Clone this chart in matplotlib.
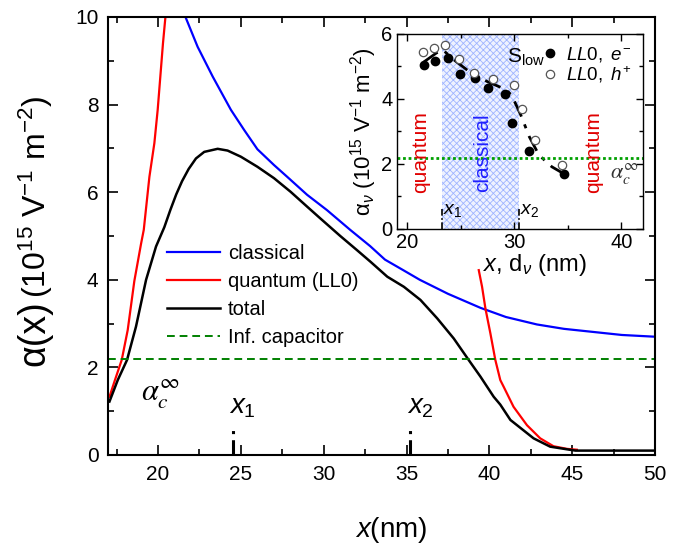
import matplotlib
matplotlib.use('Agg')
import matplotlib.pyplot as plt
from matplotlib.ticker import MultipleLocator

plt.rcParams['font.family'] = ['Liberation Sans', 'DejaVu Sans']
plt.rcParams['mathtext.fontset'] = 'custom'
plt.rcParams['mathtext.rm'] = 'Liberation Sans'
plt.rcParams['mathtext.it'] = 'Liberation Sans:italic'
plt.rcParams['mathtext.bf'] = 'Liberation Sans:bold'
plt.rcParams['hatch.linewidth'] = 0.6

# main panel: alpha(x) curves
x_classical = [21.69, 22.39, 23.3, 24.4, 25.2, 26.0, 27.0, 27.8, 29.0, 30.2, 31.6, 32.8,
               33.7, 34.8, 35.8, 37.5, 39.46, 41.0, 42.87, 44.5, 46.5, 48.0, 50.0]
y_classical = [9.97, 9.32, 8.64, 7.88, 7.42, 6.98, 6.62, 6.35, 5.94, 5.59, 5.14, 4.77,
               4.46, 4.22, 4.0, 3.68, 3.36, 3.15, 2.98, 2.88, 2.80, 2.74, 2.70]

x_quantum_left = [17.07, 17.4, 17.81, 18.17, 18.57, 18.98, 19.14, 19.48, 19.78, 19.98,
                  20.14, 20.3, 20.44]
y_quantum_left = [1.33, 1.71, 2.17, 2.85, 3.97, 4.83, 5.14, 6.35, 7.12, 7.88,
                  8.64, 9.4, 9.97]

x_quantum_right = [39.36, 39.56, 39.76, 40.06, 40.36, 40.66, 40.86, 41.46, 42.27, 43.07,
                   43.87, 44.68, 45.28]
y_quantum_right = [4.22, 3.84, 3.35, 2.78, 2.17, 1.71, 1.56, 1.10, 0.68, 0.38,
                   0.20, 0.14, 0.12]

x_total = [17.07, 17.57, 18.13, 18.67, 19.28, 19.88, 20.38, 20.75, 21.1, 21.45, 21.85,
           22.29, 22.79, 23.6, 24.2, 25.0, 26.0, 27.0, 28.0, 29.0, 29.8, 31.0, 32.0,
           32.83, 33.84, 34.84, 35.84, 36.85, 37.85, 38.75, 39.46, 40.26, 40.66, 41.27,
           41.67, 42.27, 42.67, 43.67, 44.68, 45.2, 47.0, 50.0]
y_total = [1.22, 1.71, 2.17, 2.93, 4.0, 4.76, 5.2, 5.6, 5.95, 6.25, 6.53,
           6.77, 6.92, 6.99, 6.95, 6.81, 6.58, 6.32, 6.01, 5.67, 5.40, 5.0, 4.68,
           4.41, 4.07, 3.84, 3.54, 3.12, 2.66, 2.17, 1.79, 1.33, 1.15, 0.80,
           0.68, 0.50, 0.38, 0.19, 0.13, 0.10, 0.10, 0.10]

alpha_inf = 2.18
x1_main, x2_main = 24.5, 35.2

# inset: measured alpha_nu
x_e = [21.55, 22.54, 23.84, 24.87, 26.29, 27.57, 29.09, 29.74, 31.41, 34.67]
y_e = [5.03, 5.15, 5.25, 4.76, 4.65, 4.33, 4.13, 3.24, 2.40, 1.68]
x_h = [21.46, 22.48, 23.47, 24.78, 26.23, 28.03, 29.92, 30.76, 31.91, 34.42]
y_h = [5.42, 5.56, 5.66, 5.23, 4.80, 4.61, 4.42, 3.67, 2.73, 1.96]
x_guide = [21.55, 22.7, 23.3, 24.4, 26.1, 27.5, 29.2, 29.74, 30.6, 31.4, 32.3, 33.5, 34.6]
y_guide = [5.13, 5.40, 5.50, 5.18, 4.75, 4.52, 4.28, 4.11, 3.50, 2.83, 2.27, 1.91, 1.70]
x1_in, x2_in = 23.2, 30.4

fig = plt.figure(figsize=(6.89, 5.46), dpi=100)
ax = fig.add_axes([0.1572, 0.1667, 0.7935, 0.8022])

ax.plot(x_classical, y_classical, color='#0000ff', lw=1.6, label='classical')
ax.plot(x_quantum_left, y_quantum_left, color='#ff0000', lw=1.6, label='quantum (LL0)')
ax.plot(x_quantum_right, y_quantum_right, color='#ff0000', lw=1.6)
ax.plot(x_total, y_total, color='black', lw=1.8, label='total')
ax.axhline(alpha_inf, color='#008000', lw=1.4, ls=(0, (4, 2.5)), label='Inf. capacitor')

for xm in (x1_main, x2_main):
    ax.plot([xm, xm], [0, 0.65], color='black', lw=2.2, ls=(0, (5, 2, 1, 2)))
ax.text(x1_main - 0.2, 0.8, '$x_1$', fontsize=20, ha='left', va='bottom')
ax.text(x2_main - 0.2, 0.8, '$x_2$', fontsize=20, ha='left', va='bottom')
ax.text(19.0, 1.25, r'$\alpha_c^\infty$', fontsize=22, math_fontfamily='stix')

ax.set_xlim(17, 50)
ax.set_ylim(0, 10)
ax.xaxis.set_major_locator(MultipleLocator(5))
ax.xaxis.set_minor_locator(MultipleLocator(2.5))
ax.yaxis.set_major_locator(MultipleLocator(2))
ax.yaxis.set_minor_locator(MultipleLocator(1))
ax.tick_params(which='both', direction='in', top=True, right=True, width=1.2)
ax.tick_params(which='major', length=7, labelsize=15, pad=7)
ax.tick_params(which='minor', length=4)
for s in ax.spines.values():
    s.set_linewidth(1.5)

ax.legend(loc='upper left', bbox_to_anchor=(0.075, 0.523), frameon=False, fontsize=14.5,
          handlelength=2.6, labelspacing=0.45, handletextpad=0.4)

# y label in two sizes, second part placed right after the first
t1 = fig.text(0.05, 0.33, 'α(x)', rotation=90, fontsize=27, ha='center', va='bottom')
fig.canvas.draw()
top = t1.get_window_extent().y1 / fig.bbox.height
fig.text(0.052, top + 0.003, '(10$^{15}$ V$^{-1}$ m$^{-2}$)', rotation=90, fontsize=23,
         ha='center', va='bottom')
fig.text(0.568, 0.03, '$x$(nm)', fontsize=20, ha='center', va='center')

# inset
ins = fig.add_axes([0.5758, 0.5806, 0.357, 0.358])
ins.axvspan(x1_in, x2_in, facecolor='#eef2ff', edgecolor='#9fb4ff', hatch='xxxxx', lw=0)
ins.plot(x_guide, y_guide, color='black', lw=2.0, ls=(0, (6, 3, 1.5, 3)))
ins.plot(x_e, y_e, 'o', color='black', ms=6, label='$\\mathit{LL0,\\ e^{-}}$')
ins.plot(x_h, y_h, 'o', mfc='white', mec='#555555', mew=0.9, ms=6,
         label='$\\mathit{LL0,\\ h^{+}}$')
ins.axhline(2.19, color='#00a000', lw=2.0, ls=(0, (1, 1)))
for xm in (x1_in, x2_in):
    ins.plot([xm, xm], [0, 0.6], color='black', lw=1.2, ls=(0, (4, 1.5, 1, 1.5)))
ins.text(x1_in + 0.15, 0.3, '$x_1$', fontsize=14, ha='left', va='bottom')
ins.text(x2_in + 0.15, 0.3, '$x_2$', fontsize=14, ha='left', va='bottom')
ins.text(21.2, 2.35, 'quantum', rotation=90, color='#e00000', fontsize=15, ha='center', va='center')
ins.text(27.0, 2.35, 'classical', rotation=90, color='#2020ff', fontsize=15, ha='center', va='center')
ins.text(37.4, 2.35, 'quantum', rotation=90, color='#e00000', fontsize=15, ha='center', va='center')
ins.text(29.3, 5.1, 'S$_{\\mathrm{low}}$', fontsize=15, ha='left', va='baseline')
ins.text(38.9, 1.55, r'$\alpha_c^\infty$', fontsize=16, color='#333333', math_fontfamily='stix')

ins.set_xlim(19, 42)
ins.set_ylim(0, 6)
ins.xaxis.set_major_locator(MultipleLocator(10))
ins.xaxis.set_minor_locator(MultipleLocator(5))
ins.yaxis.set_major_locator(MultipleLocator(2))
ins.yaxis.set_minor_locator(MultipleLocator(1))
ins.tick_params(which='both', direction='in', top=True, right=True, width=1.0)
ins.tick_params(which='major', length=5, labelsize=14.5, pad=3)
ins.tick_params(which='minor', length=3)
for s in ins.spines.values():
    s.set_linewidth(1.0)
ins.set_xlabel('$x$, d$_\\nu$ (nm)', fontsize=17)
ins.xaxis.set_label_coords(0.56, -0.12)
ins.set_ylabel('α$_\\nu$ (10$^{15}$ V$^{-1}$ m$^{-2}$)', fontsize=16, labelpad=2)
ins.legend(loc='upper right', bbox_to_anchor=(1.0, 1.0), frameon=False, fontsize=13.5,
           handlelength=0.5, handletextpad=0.6, borderaxespad=0.2, labelspacing=0.05)

fig.savefig('out.png', dpi=100)
